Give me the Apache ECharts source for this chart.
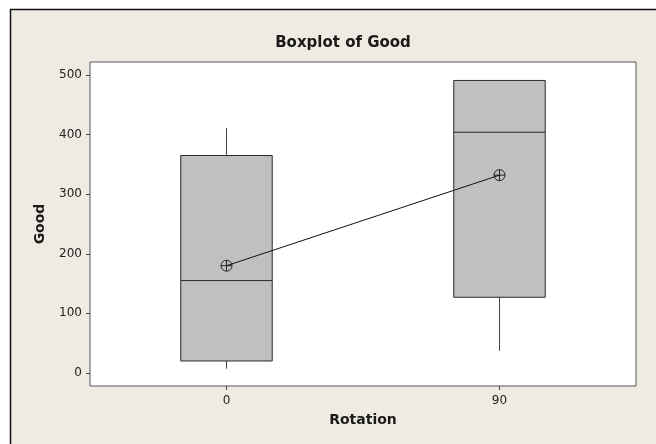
<!DOCTYPE html>
<html>
<head>
<meta charset="utf-8">
<script src="https://cdn.jsdelivr.net/npm/echarts@6/dist/echarts.min.js"></script>
<style>
html,body{margin:0;padding:0;background:#ffffff;}
#chart{width:656px;height:444px;}
</style>
</head>
<body>
<div id="chart"></div>
<script>
// Data
const categories = ['0', '90'];
const whiskerLow = [7, 37];
const q1 = [20, 127];
const median = [155, 404];
const q3 = [365, 491];
const whiskerHigh = [411, 491];
const means = [180, 332];
const yTicks = [0, 100, 200, 300, 400, 500];

const boxData = categories.map((c, i) => [i, whiskerLow[i], q1[i], median[i], q3[i], whiskerHigh[i]]);

const chart = echarts.init(document.getElementById('chart'), null, {renderer: 'canvas'});
const tickFont = 'DejaVu Sans, Verdana, sans-serif';
const boldFont = 'DejaVu Sans, sans-serif';

chart.setOption({
  animation: false,
  backgroundColor: '#ffffff',
  graphic: [{
    type: 'rect',
    shape: {x: 10.5, y: 9.5, width: 700, height: 500},
    style: {fill: '#EFEBE2', stroke: '#111111', lineWidth: 1.5},
    z: -10
  }],
  title: {
    text: 'Boxplot of Good',
    left: 338, top: 31, textAlign: 'center',
    textStyle: {fontFamily: boldFont, fontWeight: 'bold', fontSize: 15, color: '#1a1a1a'}
  },
  grid: {
    left: 90, top: 62, width: 546, height: 324,
    show: true, backgroundColor: '#ffffff', borderColor: '#555555', borderWidth: 1
  },
  xAxis: {
    type: 'category',
    data: categories,
    name: 'Rotation',
    nameLocation: 'middle',
    nameGap: 27,
    nameTextStyle: {fontFamily: boldFont, fontWeight: 'bold', fontSize: 14, color: '#1a1a1a'},
    axisLine: {show: false, onZero: false},
    axisTick: {show: true, alignWithLabel: true, length: 4, inside: false, lineStyle: {color: '#444'}},
    axisLabel: {margin: 9, fontFamily: tickFont, fontSize: 12, color: '#222'},
    splitLine: {show: false}
  },
  yAxis: {
    type: 'value',
    min: -22, max: 522,
    name: 'Good',
    nameLocation: 'middle',
    nameGap: 43,
    nameTextStyle: {fontFamily: boldFont, fontWeight: 'bold', fontSize: 14, color: '#1a1a1a'},
    axisLine: {show: false, onZero: false},
    axisTick: {show: true, length: 4, inside: false, customValues: yTicks, lineStyle: {color: '#444'}},
    axisLabel: {margin: 8, fontFamily: tickFont, fontSize: 12, color: '#222', customValues: yTicks},
    splitLine: {show: false}
  },
  series: [{
    type: 'custom',
    data: boxData,
    encode: {x: 0, y: [1, 2, 3, 4, 5]},
    renderItem: function (params, api) {
      const x = api.value(0);
      const pLo = api.coord([x, api.value(1)]);
      const pQ1 = api.coord([x, api.value(2)]);
      const pMed = api.coord([x, api.value(3)]);
      const pQ3 = api.coord([x, api.value(4)]);
      const pHi = api.coord([x, api.value(5)]);
      const bw = api.size([1, 0])[0] * 0.335;
      const cx = pMed[0];
      const stroke = {stroke: '#2a2a2a', lineWidth: 1};
      return {
        type: 'group',
        children: [
          {type: 'line', shape: {x1: cx, y1: pQ1[1], x2: cx, y2: pLo[1]}, style: {stroke: '#444', lineWidth: 1}},
          {type: 'line', shape: {x1: cx, y1: pQ3[1], x2: cx, y2: pHi[1]}, style: {stroke: '#444', lineWidth: 1}},
          {type: 'rect', shape: {x: cx - bw / 2, y: pQ3[1], width: bw, height: pQ1[1] - pQ3[1]},
            style: {fill: '#C0C0C0', stroke: '#2a2a2a', lineWidth: 1}},
          {type: 'line', shape: {x1: cx - bw / 2, y1: pMed[1], x2: cx + bw / 2, y2: pMed[1]}, style: stroke}
        ]
      };
    },
    z: 2
  }, {
    type: 'line',
    data: means,
    symbol: 'path://M0,-10A10,10 0 1,1 0,10A10,10 0 1,1 0,-10Z M-10,0L10,0 M0,-10L0,10',
    symbolSize: 11,
    lineStyle: {color: '#111', width: 1},
    itemStyle: {color: 'rgba(0,0,0,0)', borderColor: '#222', borderWidth: 1},
    z: 5
  }]
});
</script>
</body>
</html>
